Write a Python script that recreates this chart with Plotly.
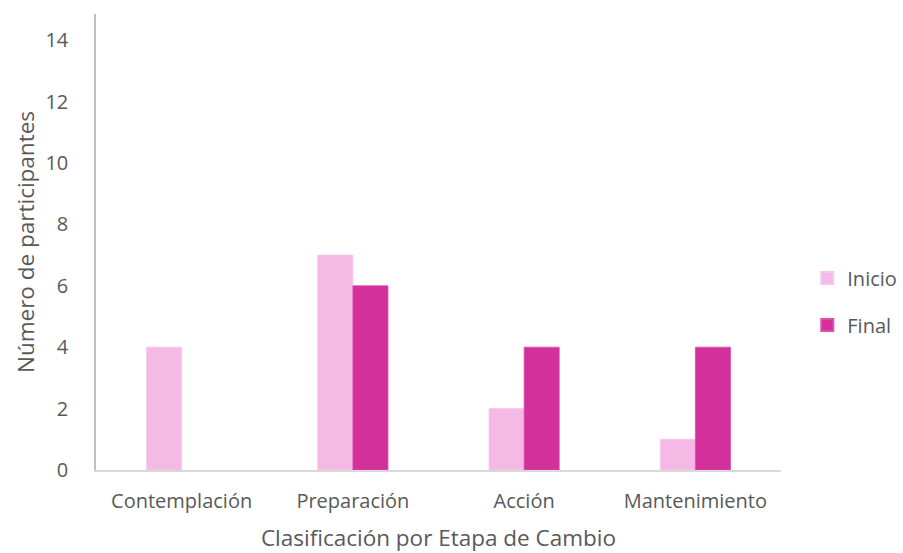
import plotly.graph_objects as go

# Participants by stage of change, start vs end of intervention
etapas = ["Contemplación", "Preparación", "Acción", "Mantenimiento"]
inicio = [4, 7, 2, 1]
final = [0, 6, 4, 4]
y_ticks = [0, 2, 4, 6, 8, 10, 12, 14]

color_inicio = "#F4B9E5"
color_final = "#D3309C"
texto = "#595959"
fuente = "Open Sans"


def borde(valores, color):
    # thin outline only on bars that actually have height
    return dict(color=color, width=[0.8 if v > 0 else 0 for v in valores])


fig = go.Figure()
fig.add_trace(go.Bar(name="Inicio", x=etapas, y=inicio, legendgroup="a",
                     marker=dict(color=color_inicio, line=borde(inicio, "#F7C8EB"))))
fig.add_trace(go.Bar(name="Final", x=etapas, y=final, legendgroup="b",
                     marker=dict(color=color_final, line=borde(final, "#DA4FAD"))))

fig.update_layout(
    width=903, height=553,
    margin=dict(l=96, r=122, t=14, b=83, autoexpand=False),
    paper_bgcolor="white", plot_bgcolor="white",
    barmode="group", bargap=0.59, bargroupgap=0,
    font=dict(family=fuente, color=texto, size=20),
    legend=dict(xref="container", yref="container", x=0.894, y=0.455,
                yanchor="middle", xanchor="left",
                font=dict(size=20, color=texto), itemsizing="constant",
                tracegroupgap=18, bgcolor="rgba(0,0,0,0)"),
    xaxis=dict(showgrid=False, showline=True, linecolor="#D9D9D9", linewidth=1.5,
               ticks="", tickfont=dict(size=20), ticklabelstandoff=12,
               title=dict(text="Clasificación por Etapa de Cambio",
                          font=dict(size=22.5, color=texto), standoff=22)),
    yaxis=dict(range=[0, 14.85], tickvals=y_ticks, showgrid=False,
               showline=True, linecolor="#BFBFBF", linewidth=1.5,
               ticks="", tickfont=dict(size=20), ticklabelstandoff=22,
               zeroline=False,
               title=dict(text="Número de participantes",
                          font=dict(size=22.5, color=texto), standoff=5)),
)

fig.write_html("out.html")
